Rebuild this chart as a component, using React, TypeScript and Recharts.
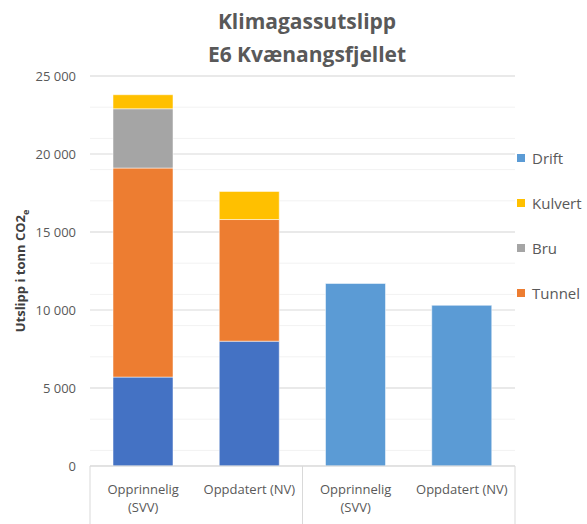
import React from "react";
import { BarChart, Bar, XAxis, YAxis, CartesianGrid } from "recharts";

const categories = ["Opprinnelig (SVV)", "Oppdatert (NV)", "Opprinnelig (SVV)", "Oppdatert (NV)"];
const veg = [5700, 8000, 0, 0];
const tunnel = [13400, 7800, 0, 0];
const bru = [3800, 0, 0, 0];
const kulvert = [900, 1800, 0, 0];
const drift = [0, 0, 11700, 10300];

const yTicks = [0, 5000, 10000, 15000, 20000, 25000];
const minorTicks = Array.from({ length: 26 }, (_, i) => i * 1000);

const legendItems = [
  { name: "Drift", color: "#5B9BD5" },
  { name: "Kulvert", color: "#FFC000" },
  { name: "Bru", color: "#A5A5A5" },
  { name: "Tunnel", color: "#ED7D31" },
];

const data = categories.map((name, i) => ({
  name,
  veg: veg[i],
  tunnel: tunnel[i],
  bru: bru[i],
  kulvert: kulvert[i],
  drift: drift[i],
}));

const W = 587;
const H = 524;
// axes sit inside the margin box, so bottom margin is 0 and the x axis takes 58px
const M = { top: 76, right: 72, bottom: 0, left: 0 };
const Y_W = 90;
const X_H = 58;
const step = (W - M.left - M.right - Y_W) / categories.length;
const axisY = H - X_H;

const font = "'Open Sans', sans-serif";
const gray = "#595959";

const fmt = (v: number) => v.toString().replace(/\B(?=(\d{3})+(?!\d))/g, " ");

// long labels break before the bracket, like Excel does here
const splitLabel = (s: string) => {
  if (s.length <= 15) return [s];
  const i = s.lastIndexOf(" ");
  return [s.slice(0, i), s.slice(i + 1)];
};

const XTick = (props: any) => {
  const { x, payload, index } = props;
  const half = step / 2;
  let sep: number | null = null;
  if (index === 0) sep = x - half;
  if (index === 1 || index === 3) sep = x + half;
  const lines = splitLabel(payload.value);
  return (
    <g>
      {sep !== null && <line x1={sep} x2={sep} y1={axisY} y2={H} stroke="#d9d9d9" />}
      <text x={x} y={494} textAnchor="middle" fontSize={13} fontFamily={font} fill={gray}>
        {lines.map((l, i) => (
          <tspan key={i} x={x} dy={i === 0 ? 0 : 18}>
            {l}
          </tspan>
        ))}
      </text>
    </g>
  );
};

const YLabel = (props: any) => {
  const { viewBox } = props;
  const cy = viewBox.y + viewBox.height / 2;
  return (
    <text
      x={0}
      y={0}
      transform={`translate(25, ${cy}) rotate(-90)`}
      textAnchor="middle"
      fontFamily={font}
      fontSize={13}
      fontWeight="bold"
      fill="#404040"
    >
      Utslipp i tonn CO2
      <tspan fontSize={9} dy={4}>e</tspan>
    </text>
  );
};

export default function App() {
  return (
    <div style={{ position: "absolute", left: 0, top: 0, width: W, height: H, background: "#fff" }}>
      <div
        style={{
          position: "absolute",
          left: 107,
          width: 400,
          top: 5,
          textAlign: "center",
          fontFamily: font,
          fontWeight: "bold",
          fontSize: 21,
          lineHeight: "33px",
          color: gray,
        }}
      >
        <div>Klimagassutslipp</div>
        <div>E6 Kvænangsfjellet</div>
      </div>
      <div style={{ position: "absolute", left: 517, top: 135, width: 70, fontFamily: font, fontSize: 15, color: gray }}>
        {legendItems.map((it) => (
          <div key={it.name} style={{ display: "flex", alignItems: "center", height: 45, whiteSpace: "nowrap" }}>
            <span style={{ width: 8, height: 8, background: it.color, marginRight: 7, flexShrink: 0 }} />
            <span>{it.name}</span>
          </div>
        ))}
      </div>
      <BarChart width={W} height={H} data={data} margin={M} barSize={60}>
        <CartesianGrid vertical={false} horizontalValues={minorTicks} stroke="#f2f2f2" />
        <CartesianGrid vertical={false} horizontalValues={yTicks} stroke="#d9d9d9" />
        <XAxis
          dataKey="name"
          axisLine={{ stroke: "#d9d9d9" }}
          tickLine={false}
          tickSize={0}
          height={X_H}
          interval={0}
          tick={<XTick />}
        />
        <YAxis
          width={Y_W}
          domain={[0, 25000]}
          ticks={yTicks}
          axisLine={false}
          tickLine={false}
          tickSize={0}
          tickMargin={14}
          tickFormatter={fmt}
          tick={{ fontSize: 13, fontFamily: font, fill: gray }}
          label={<YLabel />}
        />
        <Bar dataKey="veg" name="Veg" stackId="a" fill="#4472C4" isAnimationActive={false} stroke="#fff" strokeOpacity={0.5} />
        <Bar dataKey="tunnel" name="Tunnel" stackId="a" fill="#ED7D31" isAnimationActive={false} stroke="#fff" strokeOpacity={0.5} />
        <Bar dataKey="bru" name="Bru" stackId="a" fill="#A5A5A5" isAnimationActive={false} stroke="#fff" strokeOpacity={0.5} />
        <Bar dataKey="kulvert" name="Kulvert" stackId="a" fill="#FFC000" isAnimationActive={false} stroke="#fff" strokeOpacity={0.5} />
        <Bar dataKey="drift" name="Drift" stackId="a" fill="#5B9BD5" isAnimationActive={false} stroke="#fff" strokeOpacity={0.5} />
      </BarChart>
    </div>
  );
}
